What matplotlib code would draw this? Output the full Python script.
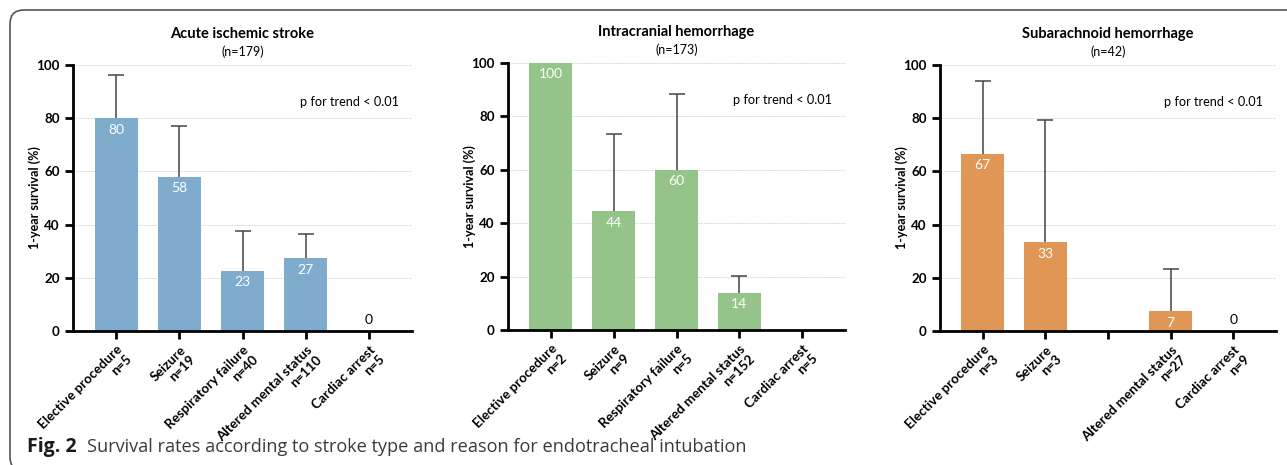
import matplotlib.pyplot as plt
from matplotlib.patches import FancyBboxPatch

plt.rcParams['font.family'] = ['Lato', 'DejaVu Sans']

# data
categories = ['Elective procedure', 'Seizure', 'Respiratory failure',
              'Altered mental status', 'Cardiac arrest']

ais_title = 'Acute ischemic stroke'
ais_total = 'n=179'
ais_n = [5, 19, 40, 110, 5]
ais_values = [80, 57.9, 22.5, 27.3, 0]
ais_upper = [96.4, 77.0, 37.5, 36.3, None]
ais_labels = ['80', '58', '23', '27', '0']

ich_title = 'Intracranial hemorrhage'
ich_total = 'n=173'
ich_n = [2, 9, 5, 152, 5]
ich_values = [100, 44.4, 60, 13.8, 0]
ich_upper = [None, 73.4, 88.4, 20.2, None]
ich_labels = ['100', '44', '60', '14', '']

sah_title = 'Subarachnoid hemorrhage'
sah_total = 'n=42'
sah_n = [3, 3, None, 27, 9]
sah_values = [66.7, 33.3, 0, 7.4, 0]
sah_upper = [93.8, 79.2, None, 23.2, None]
sah_labels = ['67', '33', '', '7', '0']

colors = ['#7faccd', '#95c48a', '#e09755']
p_text = 'p for trend < 0.01'

fig = plt.figure(figsize=(12.87, 4.65), dpi=100)

# rounded frame around the figure (only top and left edges visible)
frame = FancyBboxPatch((10, -6), 1300, 461, boxstyle='round,pad=0,rounding_size=14',
                       transform=None, facecolor='none', edgecolor='#555555',
                       linewidth=1.2, clip_on=False)
fig.patches.append(frame)

positions = [
    [73 / 1287, 1 - 331 / 465, 339 / 1287, 266 / 465],
    [508 / 1287, 1 - 330 / 465, 337 / 1287, 267 / 465],
    [940 / 1287, 1 - 331 / 465, 336 / 1287, 266 / 465],
]

panels = [
    (ais_title, ais_total, ais_n, ais_values, ais_upper, ais_labels),
    (ich_title, ich_total, ich_n, ich_values, ich_upper, ich_labels),
    (sah_title, sah_total, sah_n, sah_values, sah_upper, sah_labels),
]

for pos, color, (title, total, ns, values, upper, labels) in zip(positions, colors, panels):
    ax = fig.add_axes(pos)
    x = list(range(len(categories)))

    ax.bar(x, values, width=0.68, color=color, zorder=2)

    # upper-only error bars with a cap at the top
    for xi, v, u in zip(x, values, upper):
        if u is not None:
            ax.vlines(xi, v, u, color='#444444', linewidth=1.1, zorder=3)
            ax.plot([xi], [u], marker='_', markersize=11, markeredgewidth=1.1,
                    color='#444444', zorder=3)

    for xi, v, lab in zip(x, values, labels):
        if lab == '':
            continue
        if v > 0:
            ax.text(xi, v - 2, lab, ha='center', va='top', color='white', fontsize=10, zorder=4)
        else:
            ax.text(xi, 2, lab, ha='center', va='bottom', color='black', fontsize=10, zorder=4)

    ax.set_xlim(-0.68, 4.68)
    ax.set_ylim(0, 100)
    ax.set_yticks([0, 20, 40, 60, 80, 100])
    ax.yaxis.grid(True, color='#dadada', linestyle=(0, (2, 1)), linewidth=0.7, zorder=0)
    ax.set_axisbelow(True)

    ticklabels = []
    for cat, n in zip(categories, ns):
        ticklabels.append('' if n is None else f'{cat}\nn={n}')
    ax.set_xticks(x)
    ax.set_xticklabels(ticklabels, rotation=45, ha='right', va='top',
                       rotation_mode='anchor', fontsize=9.6, fontweight='bold',
                       multialignment='right', linespacing=1.15)

    for s in ['top', 'right']:
        ax.spines[s].set_visible(False)
    for s in ['left', 'bottom']:
        ax.spines[s].set_linewidth(2)
    ax.tick_params(axis='both', width=2, length=6, labelsize=9.6)
    ax.tick_params(axis='x', pad=3)
    for t in ax.get_yticklabels():
        t.set_fontweight('bold')

    ax.set_ylabel('1-year survival (%)', fontsize=9, fontweight='bold')
    ax.yaxis.set_label_coords(-0.094, 0.5)
    ax.text(0.5, 1.115, title, transform=ax.transAxes, ha='center', va='center',
            fontsize=10.5, fontweight='bold')
    ax.text(0.5, 1.05, f'({total})', transform=ax.transAxes, ha='center', va='center',
            fontsize=9)
    ax.text(4.47, 86, p_text, ha='right', va='center', fontsize=9.2)

fig.text(27 / 1287, 1 - 447 / 465, 'Fig. 2', fontsize=14, fontweight='bold',
         va='center', ha='left', color='#1a1a1a', family='Open Sans')
fig.text(87 / 1287, 1 - 447 / 465, 'Survival rates according to stroke type and reason for endotracheal intubation',
         fontsize=13.1, va='center', ha='left', color='#3a3a3a', family='Open Sans')

fig.savefig('out.png', dpi=100)
